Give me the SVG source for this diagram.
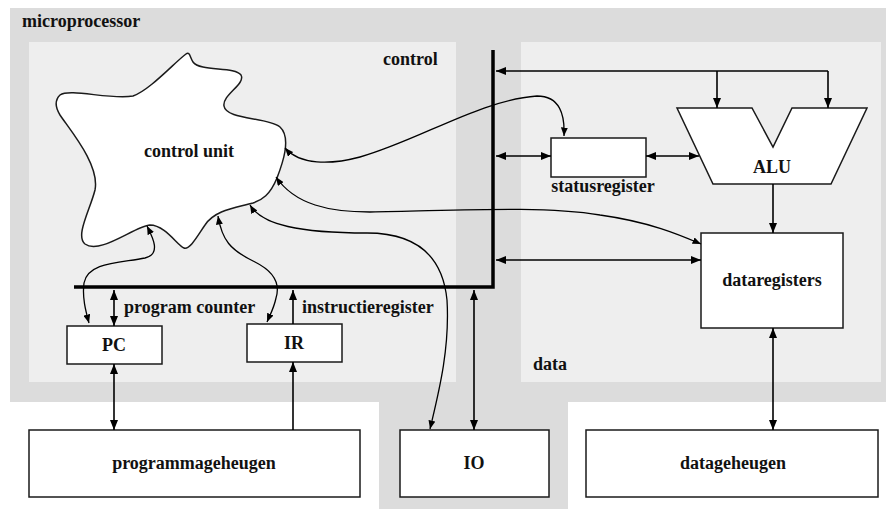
<svg xmlns="http://www.w3.org/2000/svg" width="886" height="509" viewBox="0 0 886 509">
<defs>
<style>
.outer{fill:#dcdcdc}
.inner{fill:#eeeeee}
.box{fill:#ffffff;stroke:#1a1a1a;stroke-width:1.5}
.lbl{font-family:"Liberation Serif","Times New Roman",serif;font-weight:bold;font-size:18px;fill:#111}
.mid{text-anchor:middle}
.bus{fill:none;stroke:#000;stroke-width:3.5;stroke-linejoin:miter}
.ar{fill:none;stroke:#000;stroke-width:1.6}
.cv{fill:none;stroke:#000;stroke-width:1.3}
</style>
<marker id="h" markerUnits="userSpaceOnUse" markerWidth="11" markerHeight="8" refX="10" refY="4" orient="auto-start-reverse" viewBox="0 0 11 8">
<path d="M0,0 L10,4 L0,8 z" fill="#000"/>
</marker>
<marker id="hs" markerUnits="userSpaceOnUse" markerWidth="9" markerHeight="7" refX="8.5" refY="3.5" orient="auto-start-reverse" viewBox="0 0 9 7">
<path d="M0,0 L8.5,3.5 L0,7 z" fill="#000"/>
</marker>
</defs>

<g id="background">
<rect class="outer" x="10" y="8" width="876" height="394"/>
<rect class="outer" x="379" y="400" width="189" height="109"/>
<rect class="inner" x="29" y="42" width="427" height="340"/>
<rect class="inner" x="521" y="42" width="360" height="340"/>
<text class="lbl" x="22" y="27">microprocessor</text>
<text class="lbl" x="383" y="65">control</text>
<text class="lbl" x="533" y="370">data</text>
</g>

<g id="control-unit">
<path class="box" d="M60,95 C70,88 110,100 133,96 C150,90 175,62 186,54 C190,51 190,58 193,62 C200,72 235,66 241,75 C246,84 222,95 224,106 C226,120 268,117 280,127 C292,138 282,165 277,178 C270,195 262,200 253,203 C235,208 215,210 205,225 C198,235 190,250 184,248 C178,246 165,225 150,225 C135,226 100,255 85,244 C75,236 90,210 95,190 C100,165 70,130 60,115 C55,107 55,100 60,95 Z"/>
<text class="lbl mid" x="189" y="157">control unit</text>
</g>

<g id="PC">
<rect class="box" x="67" y="326" width="95" height="38"/>
<text class="lbl mid" x="114" y="351">PC</text>
</g>

<g id="IR">
<rect class="box" x="247" y="324" width="95" height="38"/>
<text class="lbl mid" x="294" y="349">IR</text>
</g>

<g id="statusregister">
<rect class="box" x="551" y="138" width="95" height="39"/>
<text class="lbl mid" x="603" y="192">statusregister</text>
</g>

<g id="ALU">
<path class="box" d="M677,108 L752,108 L773,147 L792,108 L867,108 L831,184 L713,184 Z"/>
<text class="lbl mid" x="772" y="173">ALU</text>
</g>

<g id="dataregisters">
<rect class="box" x="701" y="233" width="142" height="95"/>
<text class="lbl mid" x="772" y="286">dataregisters</text>
</g>

<g id="programmageheugen">
<rect class="box" x="29" y="430" width="331" height="67"/>
<text class="lbl mid" x="194" y="469">programmageheugen</text>
</g>

<g id="IO">
<rect class="box" x="400" y="430" width="149" height="67"/>
<text class="lbl mid" x="474" y="469">IO</text>
</g>

<g id="datageheugen">
<rect class="box" x="586" y="430" width="292" height="67"/>
<text class="lbl mid" x="733" y="469">datageheugen</text>
</g>

<g id="bus">
<path class="bus" d="M74,287 L493,287 L493,50"/>
<text class="lbl" x="124" y="313">program counter</text>
<text class="lbl" x="302" y="313">instructieregister</text>
</g>

<g id="connectors">
<path class="ar" d="M114,290 L114,326" marker-start="url(#h)" marker-end="url(#h)"/>
<path class="ar" d="M293,324 L293,290" marker-end="url(#h)"/>
<path class="ar" d="M293,430 L293,362" marker-end="url(#h)"/>
<path class="ar" d="M114,364 L114,430" marker-start="url(#h)" marker-end="url(#h)"/>
<path class="ar" d="M474,290 L474,430" marker-start="url(#h)" marker-end="url(#h)"/>
<path class="ar" d="M828,71 L496,71" marker-end="url(#h)"/>
<path class="ar" d="M828,71 L828,108" marker-end="url(#h)"/>
<path class="ar" d="M717,71 L717,108" marker-end="url(#h)"/>
<path class="ar" d="M496,156 L551,156" marker-start="url(#h)" marker-end="url(#h)"/>
<path class="ar" d="M646,156 L699,156" marker-start="url(#h)" marker-end="url(#h)"/>
<path class="ar" d="M773,184 L773,233" marker-end="url(#h)"/>
<path class="ar" d="M496,260 L701,260" marker-start="url(#h)" marker-end="url(#h)"/>
<path class="ar" d="M773,328 L773,430" marker-start="url(#h)" marker-end="url(#h)"/>
<path class="cv" d="M285,148 C300,165 330,165 360,157 C420,140 480,100 537,96 C560,96 565,115 564,136" marker-start="url(#hs)" marker-end="url(#hs)"/>
<path class="cv" d="M276,177 C295,205 330,212 370,212 C450,211 540,205 600,215 C650,222 680,235 701,244" marker-start="url(#hs)" marker-end="url(#hs)"/>
<path class="cv" d="M250,205 C262,225 300,233 367,233 C420,233 443,260 447,300 C450,350 438,395 430,429" marker-start="url(#hs)" marker-end="url(#hs)"/>
<path class="cv" d="M147,226 C152,236 162,254 145,258 C120,263 88,262 84,283 C82,298 86,312 89,323" marker-start="url(#hs)" marker-end="url(#hs)"/>
<path class="cv" d="M218,216 C222,240 230,250 255,262 C275,272 280,285 276,298 C274,308 270,315 267,322" marker-start="url(#hs)" marker-end="url(#hs)"/>
</g>
</svg>
